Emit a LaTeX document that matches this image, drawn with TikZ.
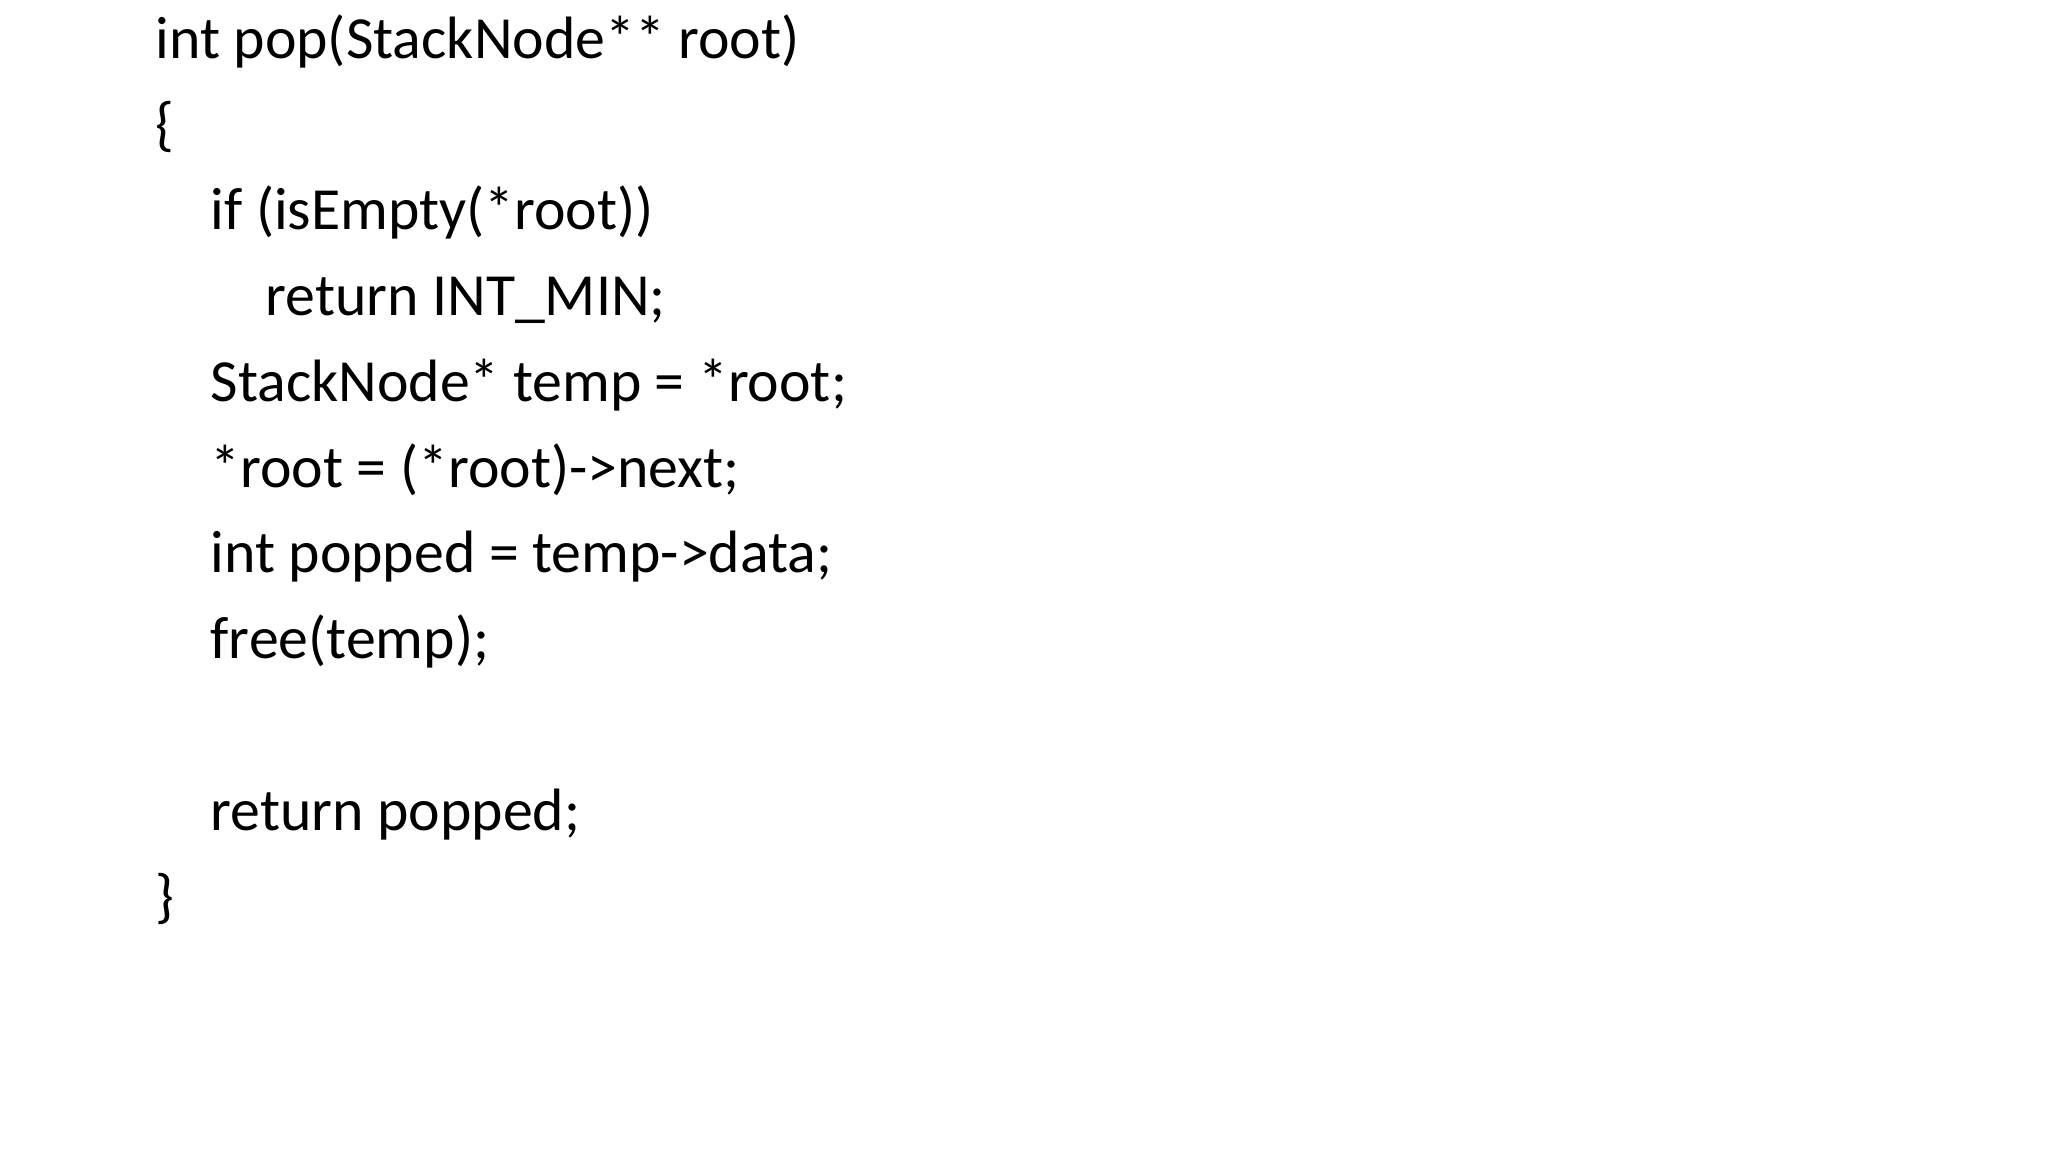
\documentclass[tikz,border=0pt]{standalone}
\usepackage{fontspec}
\setmainfont{Carlito}
\begin{document}
\begin{tikzpicture}[x=0.01cm,y=-0.01cm,
	every node/.style={anchor=base west,inner sep=0pt,font=\fontsize{17}{20}\selectfont}]
	\useasboundingbox[fill=white] (0,0) rectangle (2048,1152);
	%header
	\node (l1) at (155,59) {int pop(StackNode** root)};
	\node (l2) at (155,145) {\{};

	%body
	\node (l3) at (210,230) {if (isEmpty(*root))};
	\node (l4) at (265,316) {return INT\_MIN;};
	\node (l5) at (210,402) {StackNode* temp = *root;};
	\node (l6) at (210,488) {*root = (*root)->next;};
	\node (l7) at (210,573) {int popped = temp->data;};
	\node (l8) at (210,659) {free(temp);};
	\node (l9) at (210,830) {return popped;};

	%closing brace
	\node (l10) at (155,916) {\}};
\end{tikzpicture}
\end{document}
